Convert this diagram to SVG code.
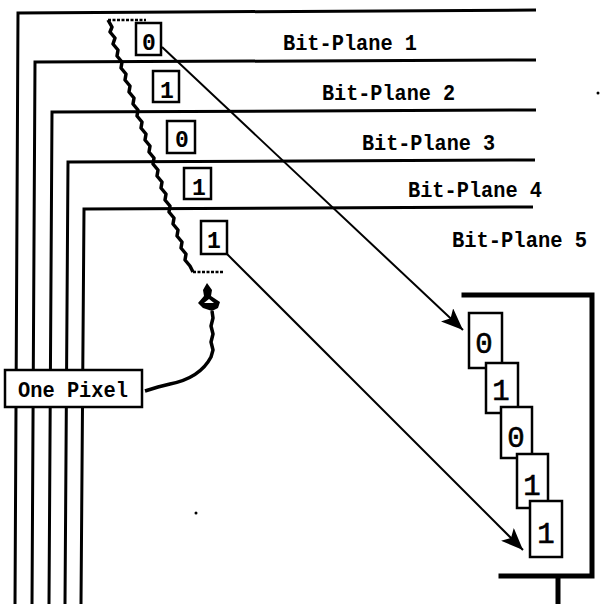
<svg xmlns="http://www.w3.org/2000/svg" width="602" height="604" viewBox="0 0 602 604">
<style>
.pl{fill:none;stroke:#000;stroke-width:3}
.lbl{font-family:"Liberation Mono","DejaVu Sans Mono",monospace;font-weight:bold;font-size:22px;fill:#000}
.box{fill:#fff;stroke:#000;stroke-width:2.5}
.dg{font-family:"Liberation Mono","DejaVu Sans Mono",monospace;font-weight:bold;font-size:23px;fill:#000;text-anchor:middle}
.dgl{font-family:"Liberation Mono","DejaVu Sans Mono",monospace;font-size:29px;fill:#000;text-anchor:middle;stroke:#000;stroke-width:0.6}
.frm{fill:none;stroke:#000;stroke-width:5;stroke-linecap:square}
.con{fill:none;stroke:#000;stroke-width:2}
.wav{fill:none;stroke:#000;stroke-width:3.5;stroke-linejoin:round}
.dot{fill:none;stroke:#000;stroke-width:2.5;stroke-dasharray:3 1.5}
</style>
<defs>
<marker id="ah" markerUnits="userSpaceOnUse" markerWidth="24" markerHeight="18" refX="22" refY="9" orient="auto">
<path d="M0,0 L22,9 L0,18 L5,9 Z" fill="#000"/>
</marker>
</defs>

<g id="plane1">
<path class="pl" d="M15,604 L18,13 L536,10"/>
<text class="lbl" x="283" y="50" textLength="134" lengthAdjust="spacingAndGlyphs">Bit-Plane 1</text>
</g>
<g id="plane2">
<path class="pl" d="M32,604 L35,62 L536,60"/>
<text class="lbl" x="322" y="100" textLength="133" lengthAdjust="spacingAndGlyphs">Bit-Plane 2</text>
</g>
<g id="plane3">
<path class="pl" d="M49,604 L52,112 L536,110"/>
<text class="lbl" x="362" y="150" textLength="133" lengthAdjust="spacingAndGlyphs">Bit-Plane 3</text>
</g>
<g id="plane4">
<path class="pl" d="M65,604 L68,162 L535,160"/>
<text class="lbl" x="408" y="197" textLength="134" lengthAdjust="spacingAndGlyphs">Bit-Plane 4</text>
</g>
<g id="plane5">
<path class="pl" d="M81,604 L84,209 L533,207"/>
<text class="lbl" x="452" y="247" textLength="135" lengthAdjust="spacingAndGlyphs">Bit-Plane 5</text>
</g>

<g id="pixel-column">
<path class="wav" d="M108,20 L112,27 L110,32 L115,38 L113,44 L118,50 L117,56 L122,62 L121,68 L126,74 L125,80 L130,86 L129,92 L134,98 L133,104 L138,110 L137,116 L142,122 L141,128 L146,134 L145,140 L150,146 L149,152 L154,158 L153,164 L158,170 L157,176 L162,182 L161,188 L166,194 L165,200 L170,206 L169,212 L174,218 L173,224 L178,230 L177,236 L182,242 L181,248 L186,254 L185,260 L190,266 L193,272"/>
<path class="dot" d="M108,20 L146,20"/>
<path class="dot" d="M193,272 L223,272"/>
</g>

<g id="bit1"><rect class="box" x="136" y="23" width="25" height="32"/><text class="dg" x="149" y="50">0</text></g>
<g id="bit2"><rect class="box" x="153" y="71" width="26" height="31"/><text class="dg" x="167" y="98">1</text></g>
<g id="bit3"><rect class="box" x="167" y="121" width="28" height="32"/><text class="dg" x="182" y="147">0</text></g>
<g id="bit4"><rect class="box" x="184" y="168" width="27" height="31"/><text class="dg" x="199" y="195">1</text></g>
<g id="bit5"><rect class="box" x="201" y="221" width="26" height="33"/><text class="dg" x="214" y="248">1</text></g>

<g id="pixel-marker">
<path d="M207,283 L212,290 L211,296 L220,302 L218,308 L212,311 L203,308 L198,303 L204,296 L203,290 Z" fill="#000"/>
<path d="M204,303 L209,299 L214,303 Z" fill="#fff"/>
</g>

<g id="one-pixel">
<rect class="box" x="5" y="370" width="137" height="37" stroke-width="3"/>
<text class="lbl" x="18" y="397" textLength="110" lengthAdjust="spacingAndGlyphs">One Pixel</text>
</g>

<g id="frame">
<path class="frm" d="M464,295 L592,295 L592,576 L501,576"/>
<path class="frm" d="M558,577 L558,604" stroke-linecap="butt"/>
</g>

<g id="stack">
<g id="s1"><rect class="box" x="469" y="313" width="33" height="55"/><text class="dgl" x="484" y="353">0</text></g>
<g id="s2"><rect class="box" x="486" y="363" width="32" height="50"/><text class="dgl" x="501" y="400">1</text></g>
<g id="s3"><rect class="box" x="501" y="407" width="31" height="51"/><text class="dgl" x="516" y="447">0</text></g>
<g id="s4"><rect class="box" x="517" y="454" width="31" height="54"/><text class="dgl" x="532" y="495">1</text></g>
<g id="s5"><rect class="box" x="530" y="501" width="32" height="56"/><text class="dgl" x="546" y="543">1</text></g>
</g>

<g id="connectors">
<path class="con" d="M162,47 L463,330" marker-end="url(#ah)"/>
<path class="con" d="M227,254 L523,550" marker-end="url(#ah)"/>
<path class="wav" stroke-width="3" d="M212,311 L213,318 L211,326 L213,334 L211,342 L213,350 L211,357 Q200,378 170,384 L158,387 L145,391"/>
</g>

<g id="specks">
<circle cx="196" cy="513" r="1.5" fill="#000"/>
<circle cx="598" cy="93" r="1.5" fill="#000"/>
</g>
</svg>
